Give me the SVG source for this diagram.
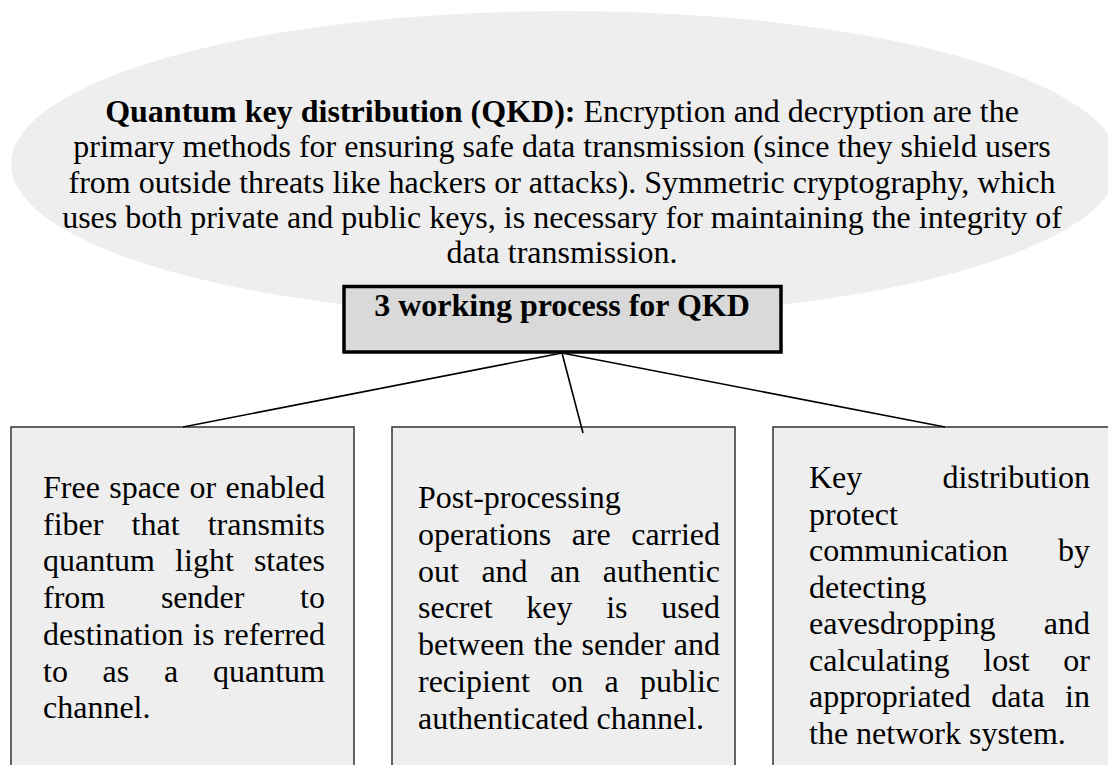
<svg xmlns="http://www.w3.org/2000/svg" width="1108" height="765" viewBox="0 0 1108 765">
<style>
text{font-family:"Liberation Serif","Times New Roman",serif;fill:#000}
.hd{font-size:32px;text-anchor:middle}
.bx{font-size:32px}
.b{font-weight:bold}
.e{text-anchor:end}
.card{fill:#eeeeee;stroke:#333;stroke-width:1.5}
.con{stroke:#000;stroke-width:1.6;fill:none}
</style>
<rect width="1108" height="765" fill="#fff"/>
<g id="header">
<ellipse cx="565" cy="164" rx="554" ry="153" fill="#eeeeee"/>
<text class="hd" x="562" y="121.7"><tspan class="b">Quantum key distribution (QKD):</tspan> Encryption and decryption are the</text>
<text class="hd" x="562" y="157.1">primary methods for ensuring safe data transmission (since they shield users</text>
<text class="hd" x="562" y="192.5">from outside threats like hackers or attacks). Symmetric cryptography, which</text>
<text class="hd" x="562" y="227.9">uses both private and public keys, is necessary for maintaining the integrity of</text>
<text class="hd" x="562" y="263.3">data transmission.</text>
</g>
<g id="box1">
<rect class="card" x="11" y="427" width="343" height="360"/>
<text class="bx" y="498"><tspan x="43">Free</tspan><tspan x="109.2">space</tspan><tspan x="189.5">or</tspan><tspan x="325" class="e">enabled</tspan></text>
<text class="bx" y="534.7"><tspan x="43">fiber</tspan><tspan x="131.6">that</tspan><tspan x="325" class="e">transmits</tspan></text>
<text class="bx" y="571.4"><tspan x="43">quantum</tspan><tspan x="175.1">light</tspan><tspan x="325" class="e">states</tspan></text>
<text class="bx" y="608.1"><tspan x="43">from</tspan><tspan x="160.9">sender</tspan><tspan x="325" class="e">to</tspan></text>
<text class="bx" y="644.8"><tspan x="43">destination</tspan><tspan x="193">is</tspan><tspan x="325" class="e">referred</tspan></text>
<text class="bx" y="681.5"><tspan x="43">to</tspan><tspan x="102.6">as</tspan><tspan x="164">a</tspan><tspan x="325" class="e">quantum</tspan></text>
<text class="bx" x="43" y="718.2">channel.</text>
</g>
<g id="box2">
<rect class="card" x="392" y="427" width="343" height="360"/>
<text class="bx" x="418" y="508">Post-processing</text>
<text class="bx" y="544.8"><tspan x="418">operations</tspan><tspan x="571.7">are</tspan><tspan x="720" class="e">carried</tspan></text>
<text class="bx" y="581.6"><tspan x="418">out</tspan><tspan x="481.4">and</tspan><tspan x="550.1">an</tspan><tspan x="720" class="e">authentic</tspan></text>
<text class="bx" y="618.4"><tspan x="418">secret</tspan><tspan x="526.3">key</tspan><tspan x="606.2">is</tspan><tspan x="720" class="e">used</tspan></text>
<text class="bx" y="655.2"><tspan x="418">between</tspan><tspan x="533.5">the</tspan><tspan x="581.5">sender</tspan><tspan x="720" class="e">and</tspan></text>
<text class="bx" y="692"><tspan x="418">recipient</tspan><tspan x="551.3">on</tspan><tspan x="604.5">a</tspan><tspan x="720" class="e">public</tspan></text>
<text class="bx" x="418" y="728.8">authenticated channel.</text>
</g>
<g id="box3">
<rect class="card" x="773" y="427" width="345" height="360"/>
<text class="bx" y="488"><tspan x="809">Key</tspan><tspan x="1090" class="e">distribution</tspan></text>
<text class="bx" x="809" y="524.5">protect</text>
<text class="bx" y="561"><tspan x="809">communication</tspan><tspan x="1090" class="e">by</tspan></text>
<text class="bx" x="809" y="597.5">detecting</text>
<text class="bx" y="634"><tspan x="809">eavesdropping</tspan><tspan x="1090" class="e">and</tspan></text>
<text class="bx" y="670.5"><tspan x="809">calculating</tspan><tspan x="983.3">lost</tspan><tspan x="1090" class="e">or</tspan></text>
<text class="bx" y="707"><tspan x="809">appropriated</tspan><tspan x="991.3">data</tspan><tspan x="1090" class="e">in</tspan></text>
<text class="bx" x="809" y="743.5">the network system.</text>
</g>
<g id="connectors">
<line class="con" x1="562" y1="353" x2="183" y2="427"/>
<line class="con" x1="562" y1="353" x2="583" y2="433"/>
<line class="con" x1="562" y1="353" x2="945" y2="427"/>
</g>
<g id="process">
<rect x="344" y="286.5" width="437" height="65.5" fill="#d9d9d9" stroke="#000" stroke-width="3.5"/>
<text class="bx b" x="562" y="316" text-anchor="middle">3 working process for QKD</text>
</g>
</svg>
